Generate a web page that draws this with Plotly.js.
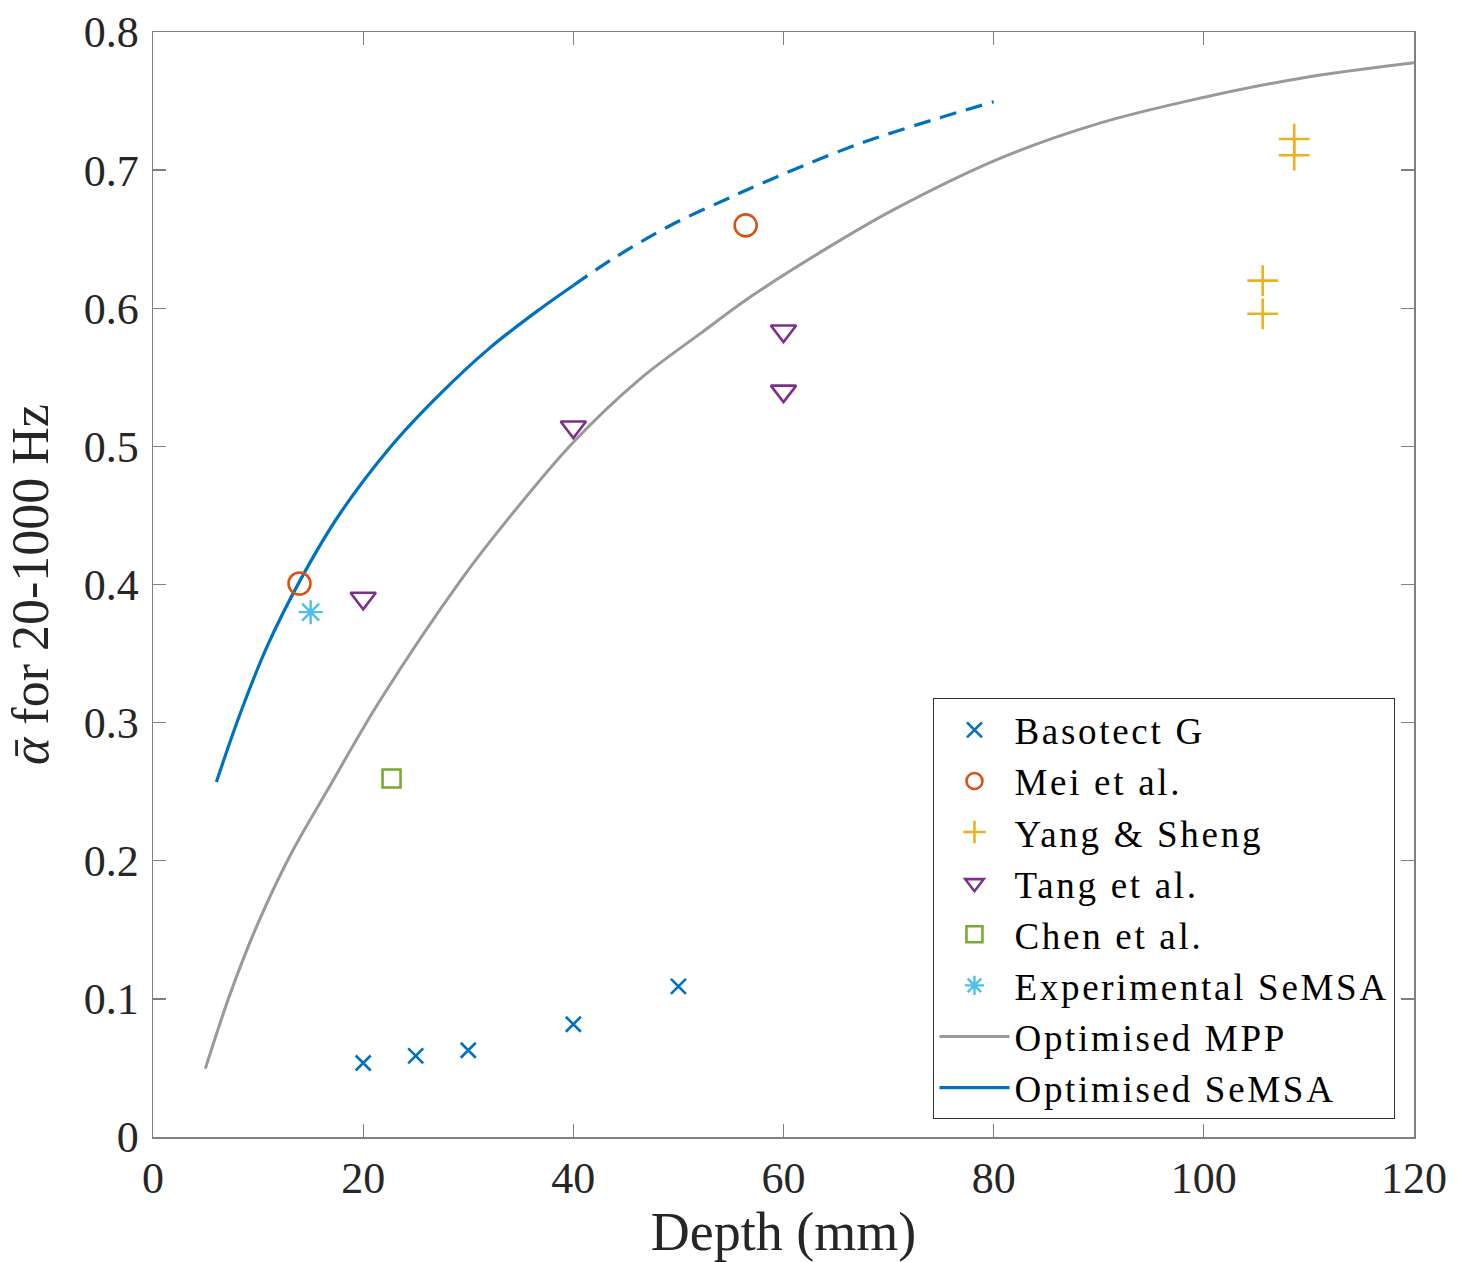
<!DOCTYPE html>
<html>
<head>
<meta charset="utf-8">
<script src="https://cdn.plot.ly/plotly-3.0.1.min.js"></script>
<style>
html,body{margin:0;padding:0;background:#fff;}
#chart{width:1457px;height:1262px;}
.legendtext{letter-spacing:2.7px;}
</style>
</head>
<body>
<div id="chart"></div>
<script>
// ---- data ----
const basotectX = [20, 25, 30, 40, 50];
const basotectY = [0.0536, 0.0587, 0.0628, 0.0816, 0.109];

const meiX = [13.94, 56.4];
const meiY = [0.4007, 0.660];

const yangX = [108.6, 108.6, 105.6, 105.6];
const yangY = [0.7225, 0.7108, 0.620, 0.596];

const tangX = [20, 40, 60, 60];
const tangY = [0.390, 0.514, 0.5835, 0.540];

const chenX = [22.7];
const chenY = [0.2595];

const expX = [15.0];
const expY = [0.380];

const mppX = [4.98, 7.35, 9.89, 13.06, 16.86, 21.6, 29.4, 33.7, 40.0, 46.3, 52.1, 57.0, 63.5, 70.4, 80.6, 90.1, 99.6, 109.1, 120];
const mppY = [0.0495, 0.1038, 0.153, 0.204, 0.2545, 0.316, 0.4043, 0.4466, 0.503, 0.5485, 0.5818, 0.609, 0.6405, 0.671, 0.7085, 0.734, 0.752, 0.7664, 0.7777];

const semsaX = [6.03, 8.3, 10.84, 14.0, 17.8, 22.6, 27.33, 32.08, 36.84, 40];
const semsaY = [0.257, 0.3066, 0.3548, 0.403, 0.4514, 0.4996, 0.538, 0.5715, 0.5995, 0.6165];

const semsaExtX = [40, 43.8, 49.5, 54.3, 57.8, 67.3, 80];
const semsaExtY = [0.6165, 0.636, 0.661, 0.678, 0.690, 0.7193, 0.7495];

const xTicks = [0, 20, 40, 60, 80, 100, 120];
const yTicks = [0, 0.1, 0.2, 0.3, 0.4, 0.5, 0.6, 0.7, 0.8];
const yTickText = ['0', '0.1', '0.2', '0.3', '0.4', '0.5', '0.6', '0.7', '0.8'];

const FONT = '"Liberation Serif", "DejaVu Serif", serif';

const traces = [
  {x: mppX, y: mppY, mode: 'lines', name: 'Optimised MPP', legendrank: 7,
   line: {color: '#999999', width: 3, shape: 'spline', smoothing: 1}},
  {x: semsaX, y: semsaY, mode: 'lines', name: 'Optimised SeMSA', legendrank: 8,
   line: {color: '#0072BD', width: 3.2, shape: 'spline', smoothing: 1}},
  {x: semsaExtX, y: semsaExtY, mode: 'lines', name: 'Optimised SeMSA (ext)', showlegend: false,
   line: {color: '#0072BD', width: 3.2, dash: '17px,10px', shape: 'spline', smoothing: 1}},
  {x: basotectX, y: basotectY, mode: 'markers', name: 'Basotect G', legendrank: 1,
   marker: {symbol: 'x-thin-open', size: 15, color: '#0072BD', line: {color: '#0072BD', width: 2.6}}},
  {x: meiX, y: meiY, mode: 'markers', name: 'Mei et al.', legendrank: 2,
   marker: {symbol: 'circle-open', size: 22, color: '#D95319', line: {color: '#D95319', width: 2.6}}},
  {x: yangX, y: yangY, mode: 'markers', name: 'Yang &amp; Sheng', legendrank: 3,
   marker: {symbol: 'cross-thin-open', size: 22, color: '#EDB120', line: {color: '#EDB120', width: 2.6}}},
  {x: tangX, y: tangY, mode: 'markers', name: 'Tang et al.', legendrank: 4,
   marker: {symbol: 'triangle-down-open', size: 22, color: '#7E2F8E', line: {color: '#7E2F8E', width: 2.6}}},
  {x: chenX, y: chenY, mode: 'markers', name: 'Chen et al.', legendrank: 5,
   marker: {symbol: 'square-open', size: 18, color: '#77AC30', line: {color: '#77AC30', width: 2.6}}},
  {x: expX, y: expY, mode: 'markers', name: 'Experimental SeMSA', legendrank: 6,
   marker: {symbol: 'asterisk-open', size: 20, color: '#4DBEEE', line: {color: '#4DBEEE', width: 2.4}}}
];

const axisCommon = {
  showgrid: false, zeroline: false, showline: true, mirror: 'ticks',
  linecolor: '#808080', linewidth: 1.5,
  ticks: 'inside', ticklen: 13, tickwidth: 1.3, tickcolor: '#808080',
  tickfont: {family: FONT, size: 44, color: '#262626'}
};

const layout = {
  width: 1457, height: 1262,
  paper_bgcolor: '#ffffff', plot_bgcolor: '#ffffff',
  margin: {l: 153, r: 43, t: 32, b: 125, pad: 0},
  showlegend: true,
  xaxis: Object.assign({}, axisCommon, {
    range: [0, 120], tickvals: xTicks, ticktext: xTicks.map(String),
    ticklabelstandoff: 2,
    title: {text: 'Depth (mm)', font: {family: FONT, size: 54, color: '#262626'}, standoff: 8}
  }),
  yaxis: Object.assign({}, axisCommon, {
    range: [0, 0.8], tickvals: yTicks, ticktext: yTickText,
    ticklabelstandoff: 4,
    title: {text: '<i>ᾱ</i> for 20-1000 Hz', font: {family: FONT, size: 52, color: '#262626'}, standoff: 18}
  }),
  legend: {
    x: 0.9853, y: 0.016, xanchor: 'right', yanchor: 'bottom',
    bgcolor: '#ffffff', bordercolor: '#333333', borderwidth: 1,
    font: {family: FONT, size: 37, color: '#000000'},
    tracegroupgap: 0, itemwidth: 70
  }
};

Plotly.newPlot('chart', traces, layout, {displayModeBar: false, staticPlot: true});
</script>
</body>
</html>
